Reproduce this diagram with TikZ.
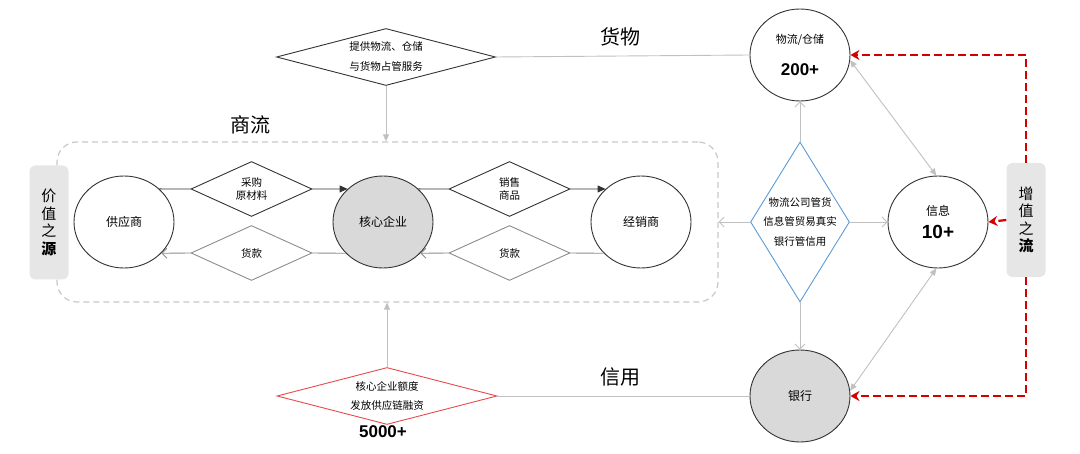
\documentclass[tikz,border=0pt]{standalone}
\usepackage{fontspec}
\setmainfont{Noto Sans CJK SC}
\newfontfamily\numfont{Liberation Sans}
\usetikzlibrary{shapes.geometric,arrows.meta}
\definecolor{lgray}{HTML}{C0C0C0}
\definecolor{pgray}{HTML}{8C8C8C}
\definecolor{boxgray}{HTML}{C8C8C8}
\definecolor{sidegray}{HTML}{E6E6E6}
\definecolor{cgray}{HTML}{D9D9D9}
\definecolor{myblue}{HTML}{5B9BD5}
\definecolor{lred}{HTML}{E84A4A}
\definecolor{myred}{HTML}{D40000}
\definecolor{dline}{HTML}{333333}
\tikzset{
 circ/.style={ellipse, draw=dline, line width=0.9pt, minimum width=100pt, minimum height=92pt, inner sep=0pt, align=center, font=\fontsize{12}{14}\selectfont},
 dmd/.style={diamond, draw=dline, line width=0.9pt, inner sep=0pt},
 dtxt/.style={align=center, inner sep=0pt},
 gline/.style={draw=lgray, line width=0.9pt},
 garr/.style={gline, -{Straight Barb[length=5pt,width=10pt]}},
 gtri/.style={gline, {Triangle[length=7pt,width=6pt]}-{Triangle[length=7pt,width=6pt]}},
 gdown/.style={gline, -{Triangle[length=7pt,width=6pt]}},
 kline/.style={draw=dline, line width=0.9pt},
 karr/.style={kline, -{Triangle[length=8pt,width=7pt]}},
 pline/.style={draw=pgray, line width=0.9pt},
 parr/.style={pline, -{Straight Barb[length=5pt,width=10pt]}},
 rdash/.style={draw=myred, line width=2.2pt, dash pattern=on 8pt off 4pt, -{Stealth[length=9pt,width=10pt]}},
 side/.style={rounded corners=6pt, fill=sidegray, minimum width=39pt, minimum height=114pt, align=center, inner sep=0pt, font=\fontsize{15}{17.5}\selectfont},
 big/.style={font=\fontsize{20}{22}\selectfont},
 num/.style={font=\numfont\bfseries\fontsize{17}{19}\selectfont}
}
\begin{document}
\begin{tikzpicture}[x=1pt,y=-1pt]
\useasboundingbox (0,0) rectangle (1080,454);
% dashed frame of the commercial flow
\node[draw=boxgray, line width=1.2pt, dash pattern=on 6pt off 4pt, rounded corners=20pt, minimum width=661pt, minimum height=160pt, inner sep=0pt] (box) at (387.5,222) {};
% side labels
\node[side] (src) at (49,222.5) {价\\值\\之\\{\bfseries 源}};
\node[side] (vadd) at (1026,220) {增\\值\\之\\{\bfseries 流}};
% titles
\node[big] (lgoods) at (620,37) {货物};
\node[big] (lcredit) at (620,377) {信用};
\node[big] (lflow) at (250,125) {商流};
% circles
\node[circ] (sup) at (124,222) {供应商};
\node[circ, fill=cgray] (core) at (383,222) {核心企业};
\node[circ] (dist) at (641,222) {经销商};
\node[circ, font=\fontsize{11}{13}\selectfont] (log) at (800,55) {物流/仓储\\[17pt]{\numfont\bfseries\fontsize{17}{19}\selectfont 200+}};
\node[circ] (info) at (938,222) {信息\\[8pt]{\numfont\bfseries\fontsize{19}{20}\selectfont 10+}};
\node[circ, fill=cgray] (bank) at (800,396) {银行};
% diamonds
\node[dmd, minimum width=219pt, minimum height=57pt, label={[dtxt, font=\fontsize{10.5}{20}\selectfont]center:{提供物流、仓储\\与货物占管服务}}] (topd) at (386,57) {};
\node[dmd, minimum width=121pt, minimum height=55pt, label={[dtxt, font=\fontsize{10.5}{13.5}\selectfont]center:{采购\\原材料}}] (buy) at (251.5,189) {};
\node[dmd, draw=pgray, minimum width=121pt, minimum height=55pt, label={[dtxt, font=\fontsize{10.5}{12}\selectfont]center:{货款}}] (pay1) at (251.5,253) {};
\node[dmd, minimum width=121pt, minimum height=55pt, label={[dtxt, font=\fontsize{10.5}{13.5}\selectfont]center:{销售\\商品}}] (sell) at (509.5,189) {};
\node[dmd, draw=pgray, minimum width=121pt, minimum height=55pt, label={[dtxt, font=\fontsize{10.5}{12}\selectfont]center:{货款}}] (pay2) at (509.5,253) {};
\node[dmd, draw=myblue, minimum width=99pt, minimum height=160pt, label={[dtxt, font=\fontsize{10.5}{19.5}\selectfont]center:{物流公司管货\\信息管贸易真实\\银行管信用}}] (mgr) at (800,222) {};
\node[dmd, draw=lred, minimum width=220pt, minimum height=57pt, label={[dtxt, font=\fontsize{10.5}{19}\selectfont]center:{核心企业额度\\发放供应链融资}}] (cred) at (387,396) {};
\node[num] (n5000) at (383,432) {5000+};
% connectors: goods and credit
\draw[gline] (topd.east) -- (log.west);
\draw[gdown] (topd.south) -- (topd.south |- box.north);
\draw[gdown] (cred.north) -- (cred.north |- box.south);
\draw[gline] (bank.west) -- (cred.east);
% commercial flow
\draw[kline] (sup.43) -- (buy.west);
\draw[karr] (buy.east) -- (core.137);
\draw[kline] (core.43) -- (sell.west);
\draw[karr] (sell.east) -- (dist.137);
\draw[pline] (dist.-140) -- (pay2.east);
\draw[parr] (pay2.west) -- (core.-40);
\draw[pline] (core.-140) -- (pay1.east);
\draw[parr] (pay1.west) -- (sup.-40);
% management diamond
\draw[garr] (mgr.north) -- (log.south);
\draw[garr] (mgr.south) -- (bank.north);
\draw[garr] (mgr.east) -- (info.west);
\draw[garr] (mgr.west) -- (box.east);
\draw[gtri] (log.-6) -- (info.92);
\draw[gtri] (bank.6) -- (info.-92);
% value-added flow
\draw[rdash] (vadd.north) |- (log.east);
\draw[rdash] (vadd.south) |- (bank.east);
\draw[rdash] (vadd.west) -- (info.east);
\end{tikzpicture}
\end{document}
